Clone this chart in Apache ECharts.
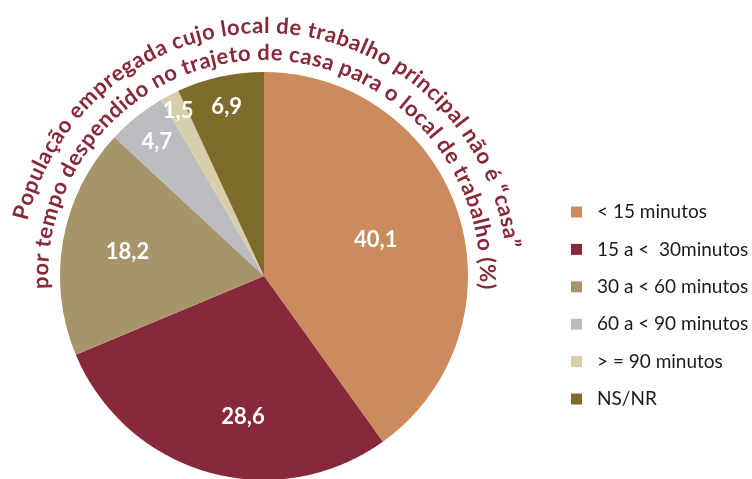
<!DOCTYPE html>
<html>
<head>
<meta charset="utf-8">
<script src="https://cdn.jsdelivr.net/npm/echarts@6/dist/echarts.min.js"></script>
<style>
  html, body { margin: 0; padding: 0; background: #fff; }
  #chart { width: 752px; height: 479px; }
</style>
</head>
<body>
<div id="chart"></div>
<script>
// data
var categories = ['< 15 minutos', '15 a <  30minutos', '30 a < 60 minutos', '60 a < 90 minutos', '> = 90 minutos', 'NS/NR']
var values = [40.1, 28.6, 18.2, 4.7, 1.5, 6.9]
var titleLines = [
    'População empregada cujo local de trabalho principal não é “casa”',
    'por tempo despendido no trajeto de casa para o local de trabalho (%)'
]

var colors = ['#CC8B5D', '#88293A', '#A8946A', '#BBBCC0', '#D8CFAA', '#7E6A2B']
var cx = 264, cy = 276, R = 204
// label placement: [fraction of radius, angle shift deg]
var labelPolar = [[0.575, 0], [0.70, -7.4], [0.68, 0], [0.84, 0], [0.91, 0], [0.85, 0]]
var maroon = '#88293A'

function midAngles() {
    var total = values.reduce(function (a, b) { return a + b }, 0)
    var cum = 0
    return values.map(function (v) {
        var m = (cum + v / 2) / total * 360
        cum += v
        return m
    })
}

// lay characters along an arc (angles clockwise from 12 o'clock)
function arcText(text, radius, startDeg, endDeg, font) {
    var ctx = document.createElement('canvas').getContext('2d')
    ctx.font = font
    var chars = Array.from(text)
    var total = ctx.measureText(text).width
    var span = (endDeg - startDeg) * Math.PI / 180
    var start = startDeg * Math.PI / 180
    var out = []
    var acc = ''
    chars.forEach(function (c) {
        var w = ctx.measureText(c).width
        var pos = ctx.measureText(acc).width + w / 2
        acc += c
        if (c === ' ') return
        var th = start + pos / total * span
        out.push({
            type: 'text',
            x: cx + radius * Math.sin(th),
            y: cy - radius * Math.cos(th),
            rotation: -th,
            silent: true,
            style: {
                text: c,
                font: font,
                fill: maroon,
                textAlign: 'center',
                textVerticalAlign: 'middle'
            }
        })
    })
    return out
}

var chart = echarts.init(document.getElementById('chart'))
var mids = midAngles()
var titleFont = 'bold 22px Lato'

chart.setOption({
    animation: false,
    color: colors,
    legend: {
        orient: 'vertical',
        left: 566,
        top: 197,
        icon: 'rect',
        itemWidth: 11,
        itemHeight: 11,
        itemGap: 17.4,
        data: categories,
        textStyle: {
            fontFamily: 'Lato',
            fontSize: 19,
            lineHeight: 20,
            color: '#1a1a1a',
            padding: [0, 0, 0, 10]
        }
    },
    graphic: arcText(titleLines[0], 250, -77, 83.5, titleFont)
        .concat(arcText(titleLines[1], 223, -93.5, 93.5, titleFont)),
    series: [
        {
            name: 'Status',
            type: 'pie',
            center: [cx, cy],
            radius: R,
            startAngle: 90,
            clockwise: true,
            data: categories.map(function (c, i) {
                return { name: c, value: values[i] }
            }),
            label: {
                show: true,
                position: 'inside',
                color: '#fff',
                fontFamily: 'Lato',
                fontWeight: 'bold',
                fontSize: 22,
                formatter: function (p) {
                    return String(p.value).replace('.', ',')
                }
            },
            labelLine: { show: false },
            labelLayout: function (p) {
                var lp = labelPolar[p.dataIndex]
                var th = (mids[p.dataIndex] + lp[1]) * Math.PI / 180
                return {
                    x: cx + R * lp[0] * Math.sin(th),
                    y: cy - R * lp[0] * Math.cos(th)
                }
            },
            emphasis: { scale: false }
        }
    ]
})
</script>
</body>
</html>
